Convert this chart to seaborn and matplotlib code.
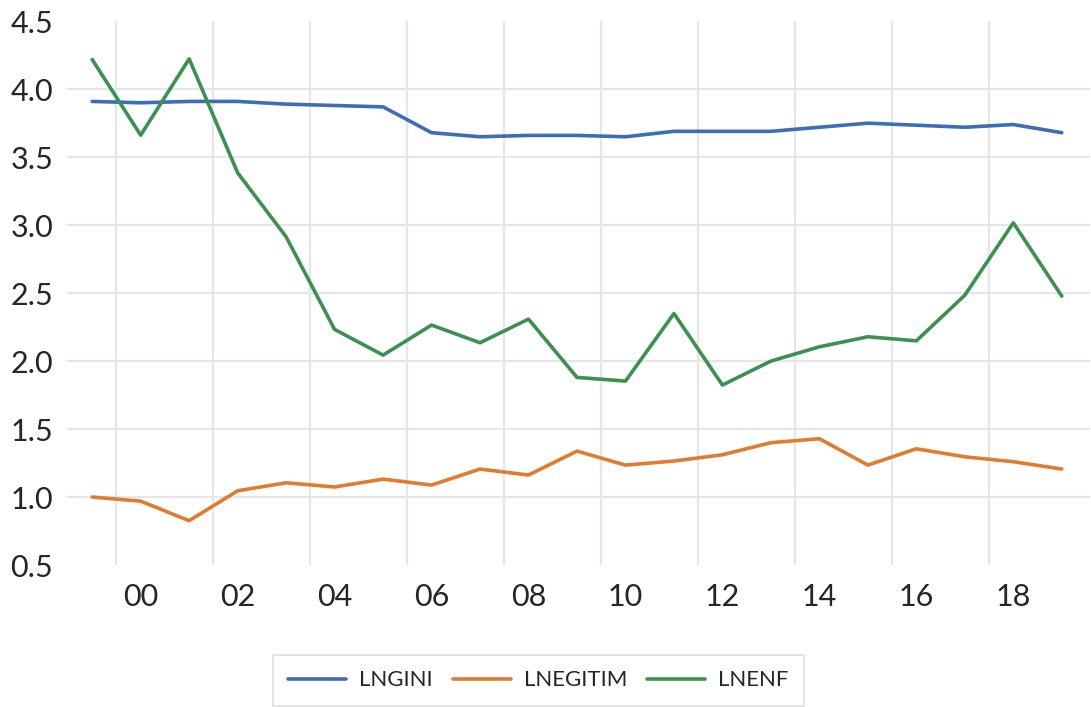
import pandas as pd
import matplotlib.pyplot as plt
import seaborn as sns

# datos
anios = list(range(1999, 2020))
lngini = [3.91, 3.90, 3.91, 3.91, 3.89, 3.88, 3.87, 3.68, 3.65, 3.66, 3.66,
          3.65, 3.69, 3.69, 3.69, 3.72, 3.75, 3.735, 3.72, 3.74, 3.68]
lnegitim = [1.00, 0.97, 0.826, 1.046, 1.105, 1.074, 1.132, 1.088, 1.206, 1.162, 1.338,
            1.235, 1.265, 1.311, 1.40, 1.429, 1.235, 1.355, 1.296, 1.26, 1.206]
lnenf = [4.218, 3.662, 4.223, 3.385, 2.914, 2.233, 2.044, 2.265, 2.135, 2.309, 1.88,
         1.853, 2.35, 1.824, 2.0, 2.105, 2.179, 2.149, 2.485, 3.017, 2.478]
series = ['LNGINI', 'LNEGITIM', 'LNENF']
colores = ['#3D6DB5', '#E07B2F', '#3C9150']
xticks = list(range(2000, 2019, 2))
xlabels = ['%02d' % (a % 100) for a in xticks]

df = pd.DataFrame({'anio': anios, 'LNGINI': lngini, 'LNEGITIM': lnegitim, 'LNENF': lnenf})
tmp = df.melt(id_vars='anio', var_name='serie', value_name='valor')

sns.set_style('whitegrid')
plt.rcParams['font.family'] = ['Lato', 'DejaVu Sans']

fig = plt.figure(figsize=(10.91, 7.07), dpi=100)
ax = fig.add_axes([0.0614, 0.2008, 0.9376, 0.7692])
sns.lineplot(data=tmp, x='anio', y='valor', hue='serie', hue_order=series,
             palette=colores, linewidth=2.6, ax=ax)

ax.set_xlim(1998.48, 2019.58)
ax.set_ylim(0.5, 4.5)
ax.set_yticks([0.5, 1.0, 1.5, 2.0, 2.5, 3.0, 3.5, 4.0, 4.5])
ax.set_yticklabels(['%.1f' % v for v in ax.get_yticks()], fontsize=22)
# lineas de grilla verticales entre anios
ax.set_xticks([a + 0.5 for a in range(1999, 2018, 2)])
ax.set_xticklabels([])
ax.set_xticks(xticks, minor=True)
ax.set_xticklabels(xlabels, minor=True, fontsize=22)
ax.tick_params(axis='x', which='both', length=0, pad=13)
ax.tick_params(axis='y', length=0, pad=10)
ax.grid(True, which='major', color='#E6E6E6', linewidth=1.6)
ax.grid(False, which='minor')
gl = ax.yaxis.get_gridlines()
gl[0].set_visible(False)
gl[-1].set_visible(False)
for s in ax.spines.values():
    s.set_visible(False)
ax.set_xlabel('')
ax.set_ylabel('')

ax.get_legend().remove()
h, l = ax.get_legend_handles_labels()
leg = fig.legend(h, l, loc='center', bbox_to_anchor=(0.4936, 0.0375), ncol=3,
                 fontsize=16, frameon=True, fancybox=False, handlelength=2.6,
                 handletextpad=0.6, columnspacing=0.9, borderpad=0.7)
leg.get_frame().set_edgecolor('#D9D9D9')
leg.get_frame().set_linewidth(1.2)

plt.savefig('out.png', dpi=100)
